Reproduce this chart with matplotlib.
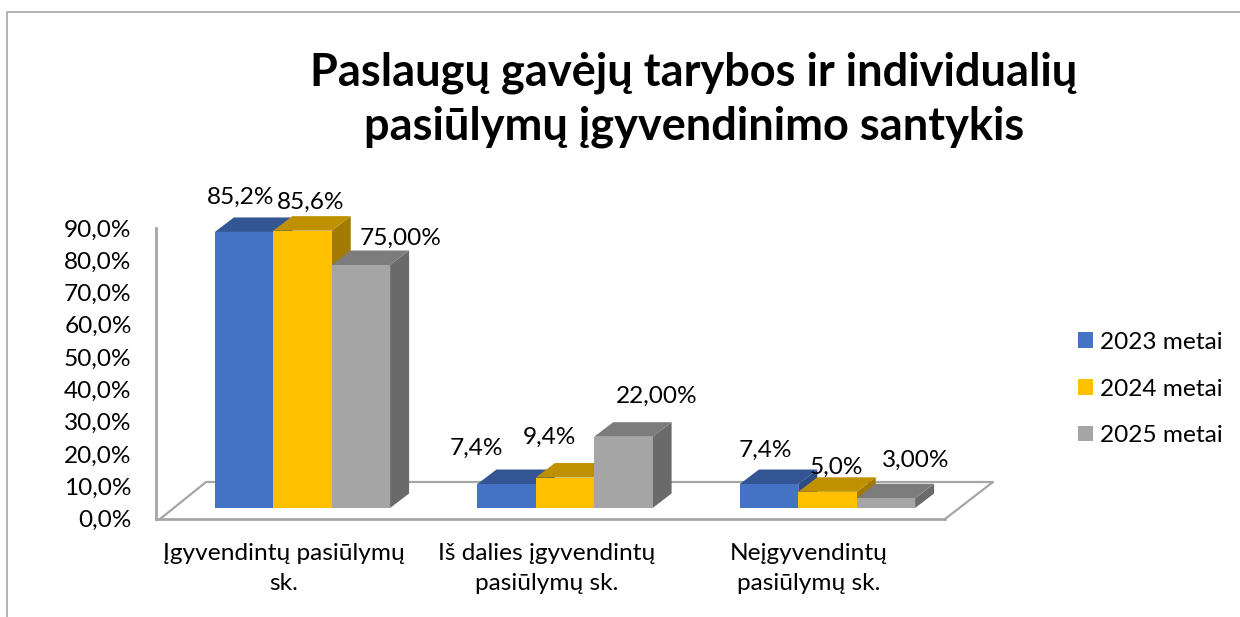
import matplotlib
matplotlib.use('Agg')
import matplotlib.pyplot as plt
from matplotlib.lines import Line2D
from matplotlib.patches import Polygon, Patch

categories = ['Įgyvendintų pasiūlymų\nsk.', 'Iš dalies įgyvendintų\npasiūlymų sk.', 'Neįgyvendintų\npasiūlymų sk.']
series_names = ['2023 metai', '2024 metai', '2025 metai']
values_2023 = [85.2, 7.4, 7.4]
values_2024 = [85.6, 9.4, 5.0]
values_2025 = [75.0, 22.0, 3.0]
labels_2023 = ['85,2%', '7,4%', '7,4%']
labels_2024 = ['85,6%', '9,4%', '5,0%']
labels_2025 = ['75,00%', '22,00%', '3,00%']
y_ticks = [0, 10, 20, 30, 40, 50, 60, 70, 80, 90]

front = ['#4472C4', '#FFC000', '#A5A5A5']
top = ['#335593', '#BF9000', '#7C7C7C']
side = ['#2C4C86', '#A37A00', '#6A6A6A']

# label offsets in pixels from the top centre of each bar
shift_2023 = [(-3, 35), (-30, 36), (-4, 34)]
shift_2024 = [(8, 28), (-16, 40), (9, 24)]
shift_2025 = [(40, 27), (33, 40), (30, 38)]

W, H = 1240, 617
font = 'Lato'
grey = '#A6A6A6'
fs = 17.6

fig = plt.figure(figsize=(W / 100, H / 100), dpi=100)


def box(left, right, bottom, upper):
    return [left / W, 1 - bottom / H, (right - left) / W, (bottom - upper) / H]


def line(xs, ys, lw=1.5, color=grey):
    fig.add_artist(Line2D([x / W for x in xs], [1 - y / H for y in ys], color=color, lw=lw,
                          transform=fig.transFigure, zorder=-1))


# chart frame, cut off by the screenshot
line([7, 7, W], [H, 12, 12], lw=1.2)

# floor
line([160, 206, 993, 945], [519, 482, 482, 519], lw=1.6)

# wall axis with tick labels and categories
ax = fig.add_axes(box(156, 945, 518.5, 228))
ax.patch.set_alpha(0)
ax.set_ylim(0, 90)
ax.set_xlim((156 - 284) / 262.5, (945 - 284) / 262.5)
ax.set_yticks(y_ticks)
ax.set_yticklabels([f'{v},0%' for v in y_ticks], fontsize=fs, family=font)
ax.set_xticks(range(len(categories)))
ax.set_xticklabels(categories, fontsize=fs, family=font, linespacing=1.5)
ax.tick_params(length=0, pad=18, axis='x')
ax.tick_params(length=0, pad=17.5, axis='y')
for s in ['top', 'right']:
    ax.spines[s].set_visible(False)
for s in ['left', 'bottom']:
    ax.spines[s].set_color(grey)
    ax.spines[s].set_linewidth(2)

# bars, same x scale as the categories but pushed back onto the floor
ax2 = fig.add_axes(box(156 + 18.5, 945 + 18.5, 508, 508 - 3.24 * 90))
ax2.patch.set_alpha(0)
ax2.set_axis_off()
ax2.set_ylim(0, 90)
ax2.set_xlim(ax.get_xlim())

bar_w = 58.4 / 262.5
dx = 19 / 262.5
dy = 14.5 / 3.24

all_values = [values_2023, values_2024, values_2025]
all_labels = [labels_2023, labels_2024, labels_2025]
all_shifts = [shift_2023, shift_2024, shift_2025]

for j, (vals, labs, shifts) in enumerate(zip(all_values, all_labels, all_shifts)):
    for i, v in enumerate(vals):
        x0 = i + (j - 1.5) * bar_w
        x1 = x0 + bar_w
        z = 3 + j
        ax2.add_patch(Polygon([(x1, 0), (x1 + dx, dy), (x1 + dx, v + dy), (x1, v)],
                              facecolor=side[j], edgecolor='none', zorder=z))
        ax2.add_patch(Polygon([(x0, v), (x0 + dx, v + dy), (x1 + dx, v + dy), (x1, v)],
                              facecolor=top[j], edgecolor='none', zorder=z))
        ax2.bar(x0, v, width=bar_w, align='edge', color=front[j], zorder=z)
        ax2.annotate(labs[i], xy=(x0 + bar_w / 2, v), xytext=(shifts[i][0] * 0.72, shifts[i][1] * 0.72),
                     textcoords='offset points', ha='center', va='center',
                     fontsize=fs, family=font, color='black', zorder=10, annotation_clip=False)

# matplotlib bar() autoscale would move the limits
ax2.set_ylim(0, 90)
ax2.set_xlim(ax.get_xlim())

fig.text(694 / W, 1 - 100 / H, 'Paslaugų gavėjų tarybos ir individualių\npasiūlymų įgyvendinimo santykis',
         ha='center', va='center', fontsize=32.5, fontweight='bold', family=font, linespacing=1.33)

handles = [Patch(facecolor=c, edgecolor='none') for c in front]
fig.legend(handles, series_names, loc='center left', bbox_to_anchor=(1078 / W, 1 - 389 / H),
           frameon=False, prop={'family': font, 'size': fs}, handlelength=0.6, handleheight=0.6,
           handletextpad=0.3, labelspacing=1.05, borderpad=0, borderaxespad=0)

fig.savefig('out.png', dpi=100)
